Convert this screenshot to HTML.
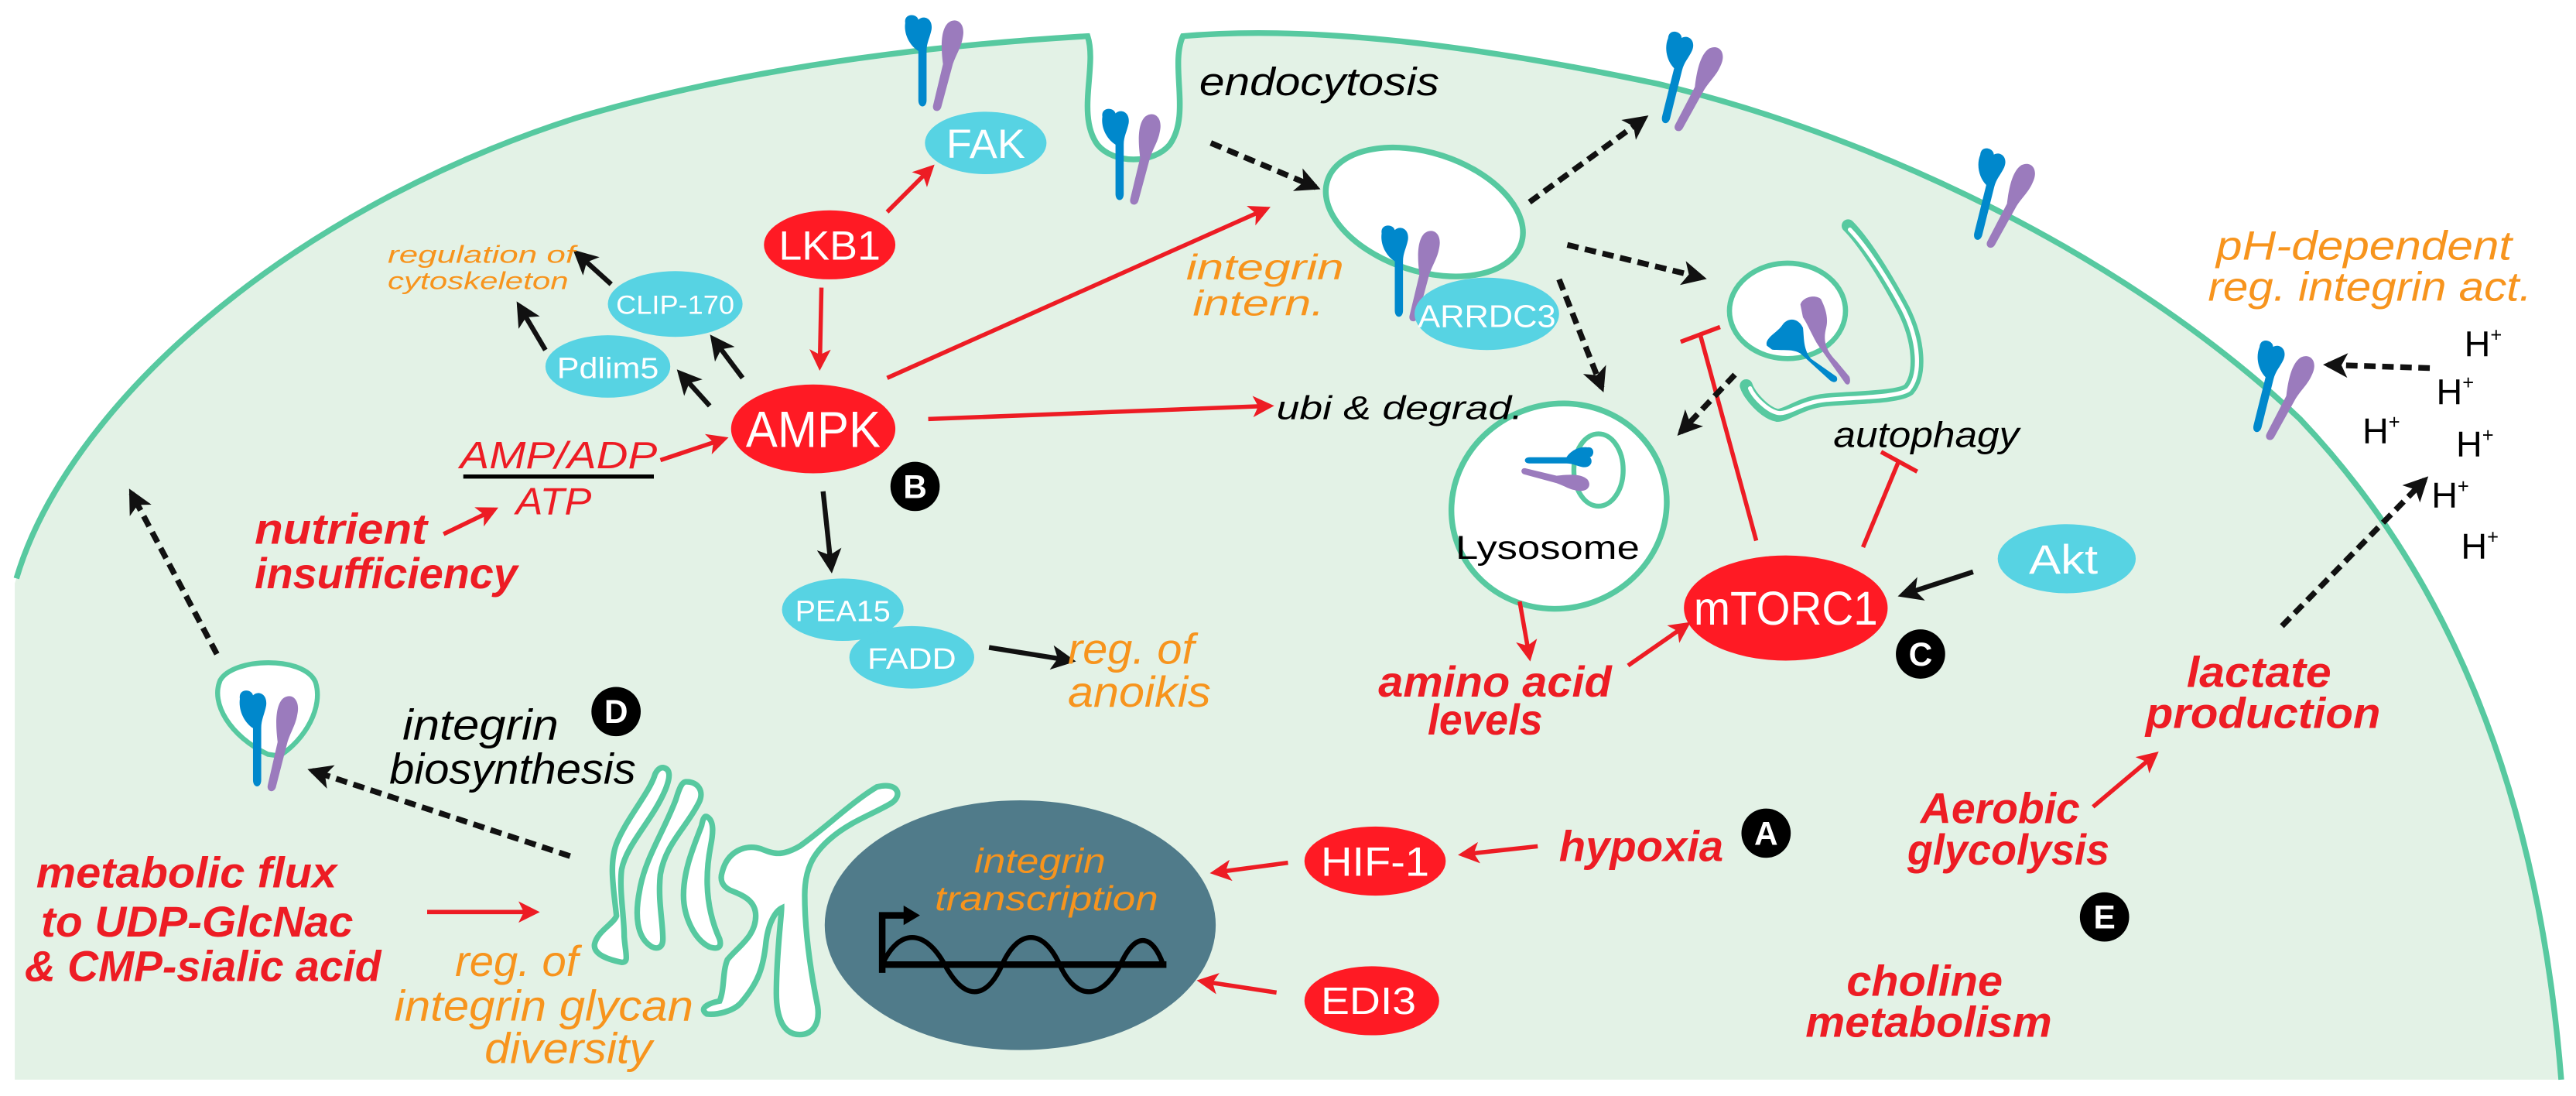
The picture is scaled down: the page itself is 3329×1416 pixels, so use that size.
<!DOCTYPE html>
<html><head><meta charset="utf-8"><style>
html,body{margin:0;padding:0;background:#fff;}
svg{display:block;}
text{font-family:"Liberation Sans",sans-serif;}
</style></head><body>
<svg width="3329" height="1416" viewBox="0 0 3329 1416" xmlns="http://www.w3.org/2000/svg">
<defs>
<marker id="ar" viewBox="0 0 10 10" refX="8" refY="5" markerUnits="userSpaceOnUse" markerWidth="15" markerHeight="13" orient="auto"><path d="M0,0 L10,5 L0,10 L2.5,5Z" fill="#ed1c24"/></marker>
<marker id="ab" viewBox="0 0 10 10" refX="8" refY="5" markerUnits="userSpaceOnUse" markerWidth="17" markerHeight="15" orient="auto"><path d="M0,0 L10,5 L0,10 L2.5,5Z" fill="#111"/></marker>
<g id="itg">
<path d="M3,5 C2,-1 10,-1 11,3 C14,0 20,2 19,9 C18,14 16,17 16,22 L16,52 C16,57 11,57 11,52 L11,22 C6,19 2,12 3,5Z" fill="#0088cc"/>
<path d="M29,5 C34,1 40,5 38,14 C37,20 34,24 32,30 L25,56 C24,60 19,59 20,55 L26,30 C25,22 24,10 29,5Z" fill="#9b7bbd"/>
</g>
</defs>

<g transform="scale(2.1231)">
<!-- cell fill -->
<path d="M9,657 L9,355 C40,250 170,130 350,72 C450,42 560,28 662,22 C668,40 655,70 668,88 C678,100 702,100 712,88 C725,70 712,40 720,22 C800,15 900,28 1009,51 C1150,85 1300,160 1400,255 C1490,350 1545,480 1559,657 Z" fill="#e3f2e6"/>
<path d="M10,352 C40,250 170,130 350,72 C450,42 560,28 662,22 C668,40 655,70 668,88 C678,100 702,100 712,88 C725,70 712,40 720,22 C800,15 900,28 1009,51 C1150,85 1300,160 1400,255 C1490,350 1545,480 1559,657" fill="none" stroke="#57c9a0" stroke-width="3.5"/>

<!-- nucleus -->
<ellipse cx="621" cy="563" rx="119" ry="76" fill="#507b8a"/>
<path d="M537,592 L537,557 L552,557" fill="none" stroke="#000" stroke-width="4"/>
<path d="M550,551 L560,557 L550,563Z" fill="#000"/>
<line x1="536" y1="587" x2="710" y2="587" stroke="#000" stroke-width="4"/>
<path d="M537,587 C547,565 563,565 575,587 C587,609 600,609 610,587 C620,565 635,565 645,587 C655,609 670,609 682,587 C692,565 702,570 708,587" fill="none" stroke="#000" stroke-width="3"/>
<text x="633" y="531" font-size="21" font-style="italic" fill="#f7941d" text-anchor="middle" textLength="80" lengthAdjust="spacingAndGlyphs">integrin</text>
<text x="637" y="554" font-size="21" font-style="italic" fill="#f7941d" text-anchor="middle" textLength="136" lengthAdjust="spacingAndGlyphs">transcription</text>

<!-- endosome -->
<ellipse cx="867" cy="129" rx="62" ry="36" transform="rotate(18 867 129)" fill="#fff" stroke="#57c9a0" stroke-width="3.5"/>
<!-- lysosome -->
<ellipse cx="949" cy="308" rx="66" ry="62" transform="rotate(-20 949 308)" fill="#fff" stroke="#57c9a0" stroke-width="3.5"/>
<ellipse cx="973" cy="286" rx="15" ry="22" fill="#fff" stroke="#57c9a0" stroke-width="3"/>
<text x="942" y="340" font-size="20" fill="#000" text-anchor="middle" textLength="112" lengthAdjust="spacingAndGlyphs">Lysosome</text>

<!-- bottom-left vesicle -->
<path d="M163,459 C140,448 128,428 134,414 C142,400 185,399 192,415 C197,430 186,450 170,460 Z" fill="#fff" stroke="#57c9a0" stroke-width="3"/>

<!-- integrins -->
<use href="#itg" transform="translate(548,9)"/>
<use href="#itg" transform="translate(668,66)"/>
<use href="#itg" transform="translate(1006,22) rotate(14 22 29)"/>
<use href="#itg" transform="translate(1196,93) rotate(14 22 29)"/>
<use href="#itg" transform="translate(1366,210) rotate(14 22 29)"/>
<use href="#itg" transform="translate(838,137)"/>
<use href="#itg" transform="translate(940,270) scale(0.75) rotate(90 20 20)"/>
<use href="#itg" transform="translate(143,420) scale(1,1.05)"/>

<!-- nodes -->
<ellipse cx="600" cy="87" rx="37" ry="19" fill="#57d3e3"/>
<text x="600" y="96" font-size="25" fill="#fff" text-anchor="middle" textLength="48" lengthAdjust="spacingAndGlyphs">FAK</text>
<ellipse cx="505" cy="149" rx="40" ry="21" fill="#ff1a24"/>
<text x="505" y="158" font-size="25" fill="#fff" text-anchor="middle" textLength="62" lengthAdjust="spacingAndGlyphs">LKB1</text>
<ellipse cx="411" cy="185" rx="41" ry="20" fill="#57d3e3"/>
<text x="411" y="191" font-size="16" fill="#fff" text-anchor="middle" textLength="72" lengthAdjust="spacingAndGlyphs">CLIP-170</text>
<ellipse cx="370" cy="223" rx="38" ry="19" fill="#57d3e3"/>
<text x="370" y="230" font-size="18" fill="#fff" text-anchor="middle" textLength="62" lengthAdjust="spacingAndGlyphs">Pdlim5</text>
<ellipse cx="495" cy="261" rx="50" ry="27" fill="#ff1a24"/>
<text x="495" y="272" font-size="31" fill="#fff" text-anchor="middle" textLength="82" lengthAdjust="spacingAndGlyphs">AMPK</text>
<ellipse cx="513" cy="371" rx="37" ry="19" fill="#57d3e3"/>
<text x="513" y="378" font-size="18" fill="#fff" text-anchor="middle" textLength="58" lengthAdjust="spacingAndGlyphs">PEA15</text>
<ellipse cx="555" cy="400" rx="38" ry="19" fill="#57d3e3"/>
<text x="555" y="407" font-size="18" fill="#fff" text-anchor="middle" textLength="54" lengthAdjust="spacingAndGlyphs">FADD</text>
<ellipse cx="905" cy="191" rx="44" ry="22" fill="#57d3e3"/>
<text x="905" y="199" font-size="19" fill="#fff" text-anchor="middle" textLength="84" lengthAdjust="spacingAndGlyphs">ARRDC3</text>
<ellipse cx="1087" cy="370" rx="62" ry="32" fill="#ff1a24"/>
<text x="1087" y="380" font-size="29" fill="#fff" text-anchor="middle" textLength="112" lengthAdjust="spacingAndGlyphs">mTORC1</text>
<ellipse cx="1258" cy="340" rx="42" ry="21" fill="#57d3e3"/>
<text x="1256" y="349" font-size="25" fill="#fff" text-anchor="middle" textLength="42" lengthAdjust="spacingAndGlyphs">Akt</text>
<ellipse cx="837" cy="524" rx="43" ry="21" fill="#ff1a24"/>
<text x="837" y="533" font-size="25" fill="#fff" text-anchor="middle" textLength="66" lengthAdjust="spacingAndGlyphs">HIF-1</text>
<ellipse cx="835" cy="609" rx="41" ry="21" fill="#ff1a24"/>
<text x="833" y="617" font-size="23" fill="#fff" text-anchor="middle" textLength="58" lengthAdjust="spacingAndGlyphs">EDI3</text>

<!-- badges -->
<g font-size="20" font-weight="bold" fill="#fff" text-anchor="middle">
<circle cx="557" cy="296" r="15" fill="#000"/><text x="557" y="303">B</text>
<circle cx="1169" cy="398" r="15" fill="#000"/><text x="1169" y="405">C</text>
<circle cx="1075" cy="507" r="15" fill="#000"/><text x="1075" y="514">A</text>
<circle cx="1281" cy="558" r="15" fill="#000"/><text x="1281" y="565">E</text>
<circle cx="375" cy="433" r="15" fill="#000"/><text x="375" y="440">D</text>
</g>

<!-- red arrows -->
<g stroke="#ed1c24" stroke-width="2.6" fill="none" marker-end="url(#ar)">
<line x1="540" y1="129" x2="567" y2="102"/>
<line x1="500" y1="175" x2="499" y2="223"/>
<line x1="540" y1="230" x2="771" y2="127"/>
<line x1="565" y1="255" x2="773" y2="247"/>
<line x1="402" y1="280" x2="441" y2="267"/>
<line x1="270" y1="325" x2="301" y2="310"/>
<line x1="925" y1="366" x2="931" y2="400"/>
<line x1="991" y1="405" x2="1027" y2="380"/>
<line x1="936" y1="515" x2="890" y2="520"/>
<line x1="784" y1="525" x2="739" y2="531"/>
<line x1="777" y1="604" x2="731" y2="597"/>
<line x1="260" y1="555" x2="326" y2="555"/>
<line x1="1274" y1="491" x2="1312" y2="459"/>
</g>
<!-- inhibition -->
<g stroke="#ed1c24" stroke-width="2.6">
<line x1="1069" y1="329" x2="1035" y2="204"/>
<line x1="1023" y1="208" x2="1047" y2="199"/>
<line x1="1134" y1="333" x2="1156" y2="280"/>
<line x1="1145" y1="275" x2="1167" y2="287"/>
</g>
<!-- black solid arrows -->
<g stroke="#111" stroke-width="3" fill="none" marker-end="url(#ab)">
<line x1="1201" y1="348" x2="1158" y2="362"/>
<line x1="501" y1="299" x2="506" y2="346"/>
<line x1="602" y1="394" x2="652" y2="402"/>
<line x1="432" y1="247" x2="414" y2="227"/>
<line x1="452" y1="230" x2="434" y2="206"/>
<line x1="332" y1="213" x2="316" y2="186"/>
<line x1="372" y1="173" x2="351" y2="154"/>
</g>
<!-- dashed arrows -->
<g stroke="#111" stroke-width="3.5" fill="none" stroke-dasharray="7,4" marker-end="url(#ab)">
<line x1="737" y1="87" x2="801" y2="114"/>
<line x1="931" y1="123" x2="1001" y2="72"/>
<line x1="954" y1="149" x2="1036" y2="169"/>
<line x1="949" y1="170" x2="975" y2="236"/>
<line x1="1056" y1="228" x2="1023" y2="263"/>
<line x1="1479" y1="224" x2="1417" y2="222"/>
<line x1="1389" y1="381" x2="1476" y2="292"/>
<line x1="132" y1="398" x2="80" y2="300"/>
<line x1="347" y1="521" x2="190" y2="469"/>
</g>

<!-- labels -->
<g font-style="italic">
<text x="730" y="58" font-size="24" fill="#000" textLength="146" lengthAdjust="spacingAndGlyphs">endocytosis</text>
<text x="236" y="160" font-size="15" fill="#f7941d" textLength="114" lengthAdjust="spacingAndGlyphs">regulation of</text>
<text x="236" y="176" font-size="15" fill="#f7941d" textLength="110" lengthAdjust="spacingAndGlyphs">cytoskeleton</text>
<text x="722" y="170" font-size="22" fill="#f7941d" textLength="96" lengthAdjust="spacingAndGlyphs">integrin</text>
<text x="726" y="192" font-size="22" fill="#f7941d" textLength="80" lengthAdjust="spacingAndGlyphs">intern.</text>
<text x="280" y="285" font-size="23" fill="#ed1c24" textLength="120" lengthAdjust="spacingAndGlyphs">AMP/ADP</text>
<line x1="282" y1="290" x2="398" y2="290" stroke="#000" stroke-width="2.5"/>
<text x="314" y="313" font-size="23" fill="#ed1c24" textLength="46" lengthAdjust="spacingAndGlyphs">ATP</text>
<text x="777" y="255" font-size="20" fill="#000" textLength="150" lengthAdjust="spacingAndGlyphs">ubi &amp; degrad.</text>
<text x="1116" y="272" font-size="22" fill="#000" textLength="113" lengthAdjust="spacingAndGlyphs">autophagy</text>
<text x="1349" y="158" font-size="25" fill="#f7941d" textLength="180" lengthAdjust="spacingAndGlyphs">pH-dependent</text>
<text x="1344" y="183" font-size="25" fill="#f7941d" textLength="197" lengthAdjust="spacingAndGlyphs">reg. integrin act.</text>
<text x="650" y="404" font-size="26" fill="#f7941d" textLength="77" lengthAdjust="spacingAndGlyphs">reg. of</text>
<text x="650" y="430" font-size="26" fill="#f7941d" textLength="87" lengthAdjust="spacingAndGlyphs">anoikis</text>
<text x="245" y="450" font-size="26" fill="#000" textLength="95" lengthAdjust="spacingAndGlyphs">integrin</text>
<text x="237" y="477" font-size="26" fill="#000" textLength="150" lengthAdjust="spacingAndGlyphs">biosynthesis</text>
<text x="277" y="594" font-size="26" fill="#f7941d" textLength="75" lengthAdjust="spacingAndGlyphs">reg. of</text>
<text x="240" y="621" font-size="26" fill="#f7941d" textLength="182" lengthAdjust="spacingAndGlyphs">integrin glycan</text>
<text x="295" y="647" font-size="26" fill="#f7941d" textLength="102" lengthAdjust="spacingAndGlyphs">diversity</text>
</g>
<g font-style="italic" font-weight="bold" fill="#ed1c24">
<text x="155" y="331" font-size="26" textLength="105" lengthAdjust="spacingAndGlyphs">nutrient</text>
<text x="155" y="358" font-size="26" textLength="160" lengthAdjust="spacingAndGlyphs">insufficiency</text>
<text x="839" y="424" font-size="26" textLength="142" lengthAdjust="spacingAndGlyphs">amino acid</text>
<text x="869" y="447" font-size="26" textLength="70" lengthAdjust="spacingAndGlyphs">levels</text>
<text x="1331" y="418" font-size="26" textLength="88" lengthAdjust="spacingAndGlyphs">lactate</text>
<text x="1306" y="443" font-size="26" textLength="143" lengthAdjust="spacingAndGlyphs">production</text>
<text x="1169" y="501" font-size="26" textLength="97" lengthAdjust="spacingAndGlyphs">Aerobic</text>
<text x="1161" y="526" font-size="26" textLength="123" lengthAdjust="spacingAndGlyphs">glycolysis</text>
<text x="949" y="524" font-size="26" textLength="100" lengthAdjust="spacingAndGlyphs">hypoxia</text>
<text x="1124" y="606" font-size="26" textLength="95" lengthAdjust="spacingAndGlyphs">choline</text>
<text x="1099" y="631" font-size="26" textLength="150" lengthAdjust="spacingAndGlyphs">metabolism</text>
<text x="22" y="540" font-size="26" textLength="183" lengthAdjust="spacingAndGlyphs">metabolic flux</text>
<text x="25" y="570" font-size="26" textLength="190" lengthAdjust="spacingAndGlyphs">to UDP-GlcNac</text>
<text x="15" y="597" font-size="26" textLength="217" lengthAdjust="spacingAndGlyphs">&amp; CMP-sialic acid</text>
</g>
<g font-size="22" fill="#000">
<text x="1500" y="217">H<tspan font-size="12" dy="-9">+</tspan></text>
<text x="1483" y="246">H<tspan font-size="12" dy="-9">+</tspan></text>
<text x="1438" y="270">H<tspan font-size="12" dy="-9">+</tspan></text>
<text x="1495" y="278">H<tspan font-size="12" dy="-9">+</tspan></text>
<text x="1480" y="309">H<tspan font-size="12" dy="-9">+</tspan></text>
<text x="1498" y="340">H<tspan font-size="12" dy="-9">+</tspan></text>
</g>
</g>

<!-- golgi (zoom coords) -->
<g transform="translate(700,950) scale(0.3333)" fill="#fff" stroke="#57c9a0" stroke-width="22">
<path d="M700,530 C720,450 790,420 850,440 C900,460 930,470 1000,430 C1100,360 1200,260 1300,200 C1380,180 1400,230 1360,260 C1300,300 1200,330 1120,400 C1050,460 1020,520 1020,620 C1020,750 1040,900 1070,1050 C1080,1120 1050,1160 1000,1160 C940,1160 910,1100 910,1000 C910,850 930,700 930,670 C910,680 880,720 870,800 C860,900 840,960 770,1040 C740,1070 680,1085 640,1080 C610,1060 640,1040 690,1030 C710,980 700,920 720,870 C760,820 830,780 830,700 C830,640 780,620 730,600 C700,585 690,560 700,530 Z"/>
<path d="M470,125 C500,130 500,160 480,210 C430,330 330,420 310,520 C300,600 320,700 320,780 C325,850 340,880 310,880 C260,870 200,850 205,810 C215,760 280,730 290,700 C280,600 260,500 290,420 C330,320 420,220 440,150 C450,130 460,125 470,125 Z"/>
<path d="M560,180 C610,180 630,220 610,260 C560,360 480,420 460,540 C450,640 470,720 470,790 C470,830 440,830 420,815 C370,780 360,700 380,600 C400,480 470,380 520,250 C535,200 545,180 560,180 Z"/>
<path d="M640,315 C670,330 665,380 655,430 C630,560 640,680 690,790 C700,825 680,830 650,820 C590,790 550,700 550,620 C550,520 590,430 620,350 C625,325 630,312 640,315 Z"/>
</g>

<!-- autophagosome (zoom coords) -->
<g transform="translate(2200,250) scale(0.3333)">
<path d="M565,125 C620,180 700,300 780,450 C840,570 850,700 800,760 C760,790 600,790 480,800 C380,810 330,860 290,860 C240,850 180,780 170,745" fill="none" stroke="#57c9a0" stroke-width="50" stroke-linecap="round"/>
<path d="M572,140 C620,190 700,300 780,450 C840,570 850,700 800,760 C760,790 600,790 480,800 C380,810 330,860 290,850 C250,840 200,790 185,755" fill="none" stroke="#fff" stroke-width="16" stroke-linecap="round"/>
<ellipse cx="330" cy="455" rx="225" ry="185" fill="#fff" stroke="#57c9a0" stroke-width="20"/>
<path d="M250,590 C240,560 290,540 310,510 C330,480 370,480 390,520 C395,560 390,600 420,640 L520,710 C530,730 510,740 490,720 L380,620 C350,600 300,610 270,605 Z" fill="#0088cc"/>
<path d="M380,430 C390,400 440,390 460,410 C475,440 490,480 480,520 C470,560 470,600 520,650 L570,710 C580,740 560,750 550,730 L450,590 C430,560 410,510 390,480 Z" fill="#9b7bbd"/>
</g>
</svg>
</body></html>
